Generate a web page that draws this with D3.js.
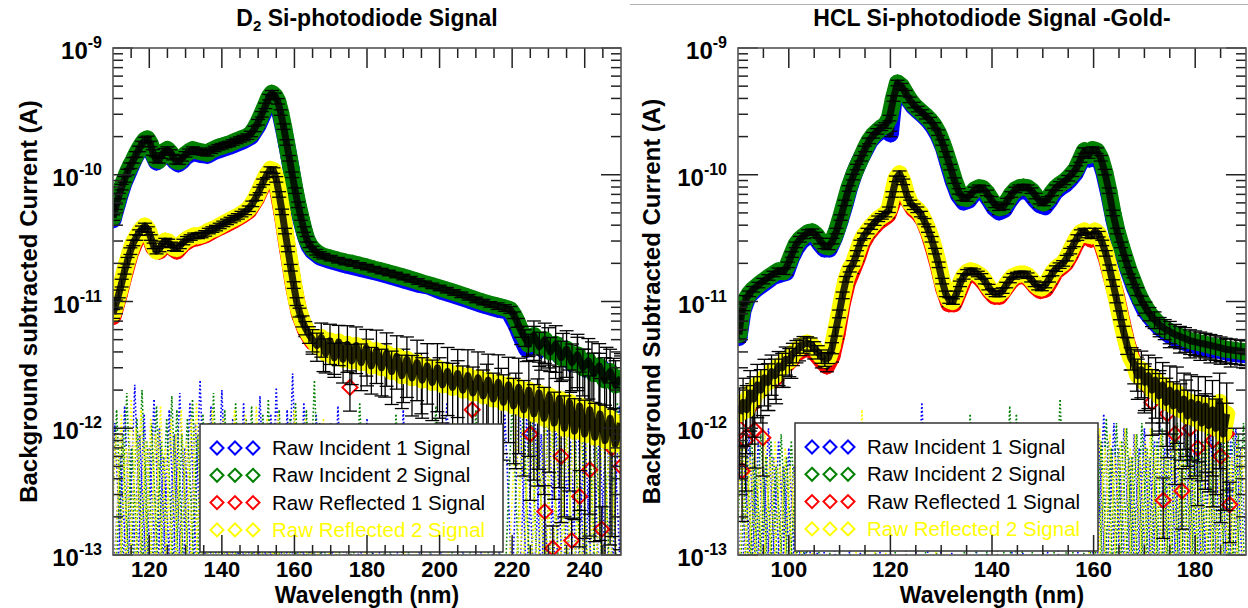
<!DOCTYPE html>
<html>
<head>
<meta charset="utf-8">
<script src="https://cdn.jsdelivr.net/npm/d3@7"></script>
<style>
body{margin:0;background:#fff}
svg{display:block;font-family:"Liberation Sans",Arial,Helvetica,sans-serif}
</style>
</head>
<body>
<div class="bod"></div>
<script>
//Global general
const seriesNames = ['Raw Incident 1 Signal','Raw Incident 2 Signal','Raw Reflected 1 Signal','Raw Reflected 2 Signal']
const seriesColors = ['#0000ff','#008000','#ff0000','#ffff00']
const legendTextColors = ['#000','#000','#000','#ffff00']
const yDecades = [1e-13,1e-12,1e-11,1e-10,1e-9]
const d2XTicks = [120,140,160,180,200,220,240]
const hclXTicks = [100,120,140,160,180]

// [wavelength nm, current A, relative error]
const d2Incident1 = [[110,4.4e-11,.05],[111,5.6e-11,.05],[112,7.0e-11,.05],[113,8.6e-11,.05],[114,1.0e-10,.05],[115,1.17e-10,.05],[116,1.35e-10,.05],[117,1.52e-10,.05],[118,1.68e-10,.05],[119,1.8e-10,.05],[120,1.72e-10,.05],[121,1.45e-10,.05],[122,1.26e-10,.05],[123,1.33e-10,.05],[124,1.45e-10,.05],[125,1.5e-10,.05],[126,1.42e-10,.05],[127,1.28e-10,.05],[128,1.22e-10,.05],[129,1.28e-10,.05],[130,1.38e-10,.05],[132,1.5e-10,.05],[134,1.45e-10,.05],[136,1.42e-10,.05],[138,1.53e-10,.05],[140,1.6e-10,.05],[142,1.67e-10,.05],[144,1.76e-10,.05],[146,1.86e-10,.05],[148,2.0e-10,.05],[150,2.45e-10,.05],[152,3.3e-10,.05],[153,3.9e-10,.05],[154,4.15e-10,.05],[155,3.8e-10,.05],[156,3.1e-10,.05],[157,2.3e-10,.05],[158,1.65e-10,.05],[159,1.15e-10,.05],[160,7.8e-11,.05],[161,5.5e-11,.05],[162,4.2e-11,.05],[163,3.3e-11,.05],[164,2.75e-11,.05],[165,2.5e-11,.05],[167,2.25e-11,.05],[170,2.1e-11,.05],[174,1.95e-11,.05],[178,1.83e-11,.05],[182,1.72e-11,.05],[186,1.6e-11,.05],[190,1.48e-11,.05],[194,1.37e-11,.05],[197,1.32e-11,.05],[200,1.22e-11,.05],[204,1.12e-11,.05],[208,1.03e-11,.05],[212,9.4e-12,.05],[216,8.7e-12,.06],[219,8.4e-12,.06],[221,6.6e-12,.08],[222.5,5.2e-12,.12],[224,4.2e-12,.2],[226,4.9e-12,.3],[228,4.1e-12,.3],[230,4.6e-12,.35],[232,3.8e-12,.35],[234,4.0e-12,.4],[236,3.2e-12,.4],[238,3.6e-12,.45],[240,2.9e-12,.45],[242,3.2e-12,.5],[244,2.6e-12,.5],[246,2.9e-12,.5],[248,2.3e-12,.55],[250,2.4e-12,.55]]
const d2Incident2 = [[110,4.6e-11,.05],[110.8,5.6e-11,.05],[111.6,6.8e-11,.05],[112.4,8.0e-11,.05],[113.2,9.2e-11,.05],[114,1.05e-10,.05],[114.8,1.18e-10,.05],[115.6,1.3e-10,.05],[116.4,1.45e-10,.05],[117.2,1.6e-10,.05],[118,1.75e-10,.05],[118.8,1.88e-10,.05],[119.5,1.92e-10,.05],[120.3,1.75e-10,.05],[121,1.5e-10,.05],[121.8,1.32e-10,.05],[122.6,1.3e-10,.05],[123.4,1.42e-10,.05],[124.2,1.53e-10,.05],[125,1.58e-10,.05],[125.8,1.5e-10,.05],[126.6,1.38e-10,.05],[127.4,1.28e-10,.05],[128.2,1.27e-10,.05],[129,1.35e-10,.05],[130,1.45e-10,.05],[131,1.52e-10,.05],[132,1.58e-10,.05],[133,1.55e-10,.05],[134,1.52e-10,.05],[135,1.5e-10,.05],[136,1.48e-10,.05],[137,1.55e-10,.05],[138,1.6e-10,.05],[139,1.65e-10,.05],[140,1.68e-10,.05],[141,1.72e-10,.05],[142,1.75e-10,.05],[143,1.8e-10,.05],[144,1.85e-10,.05],[145,1.9e-10,.05],[146,1.95e-10,.05],[147,2.0e-10,.05],[148,2.1e-10,.05],[149,2.3e-10,.05],[150,2.6e-10,.05],[151,3.0e-10,.05],[152,3.5e-10,.05],[153,4.1e-10,.05],[153.8,4.4e-10,.05],[154.6,4.2e-10,.05],[155.4,3.8e-10,.05],[156.2,3.1e-10,.05],[157,2.4e-10,.05],[157.8,1.8e-10,.05],[158.6,1.35e-10,.05],[159.4,1.0e-10,.05],[160.2,7.5e-11,.05],[161,5.8e-11,.05],[161.8,4.6e-11,.05],[162.6,3.7e-11,.05],[163.4,3.1e-11,.05],[164.2,2.8e-11,.05],[165,2.6e-11,.05],[166,2.45e-11,.05],[167,2.35e-11,.05],[168,2.28e-11,.05],[170,2.2e-11,.05],[172,2.12e-11,.05],[174,2.05e-11,.05],[176,2.0e-11,.05],[178,1.93e-11,.05],[180,1.87e-11,.05],[182,1.8e-11,.05],[184,1.74e-11,.05],[186,1.68e-11,.05],[188,1.62e-11,.05],[190,1.56e-11,.05],[192,1.5e-11,.05],[194,1.44e-11,.05],[196,1.38e-11,.05],[198,1.33e-11,.05],[200,1.28e-11,.05],[202,1.23e-11,.05],[204,1.18e-11,.05],[206,1.13e-11,.05],[208,1.08e-11,.05],[210,1.03e-11,.05],[212,9.9e-12,.05],[214,9.5e-12,.05],[216,9.2e-12,.06],[218,8.9e-12,.06],[219.5,8.6e-12,.06],[220.5,7.8e-12,.06],[221.5,6.8e-12,.08],[222.5,5.8e-12,.1],[223.5,5.2e-12,.15],[224.5,4.6e-12,.2],[226,5.4e-12,.3],[227.5,4.4e-12,.3],[229,5.0e-12,.35],[230.5,4.0e-12,.3],[232,4.6e-12,.4],[233.5,3.6e-12,.35],[235,4.2e-12,.4],[236.5,3.3e-12,.4],[238,3.8e-12,.45],[239.5,3.0e-12,.4],[241,3.4e-12,.5],[242.5,2.7e-12,.45],[244,3.1e-12,.5],[245.5,2.4e-12,.5],[247,2.8e-12,.5],[248.5,2.2e-12,.55],[250,2.5e-12,.55]]
const d2Reflected1 = [[110,7.6e-12,.08],[111.6,1.1e-11,.07],[113.2,1.65e-11,.06],[114.8,2.4e-11,.06],[116.4,3.1e-11,.05],[118,3.6e-11,.05],[119.6,3.6e-11,.05],[121.2,2.65e-11,.05],[122.8,2.5e-11,.05],[124.4,2.9e-11,.05],[126,2.7e-11,.05],[127.6,2.5e-11,.05],[129.4,2.85e-11,.05],[131.4,3.1e-11,.05],[133.4,3.2e-11,.05],[135.4,3.35e-11,.05],[137.4,3.6e-11,.05],[139.4,3.85e-11,.05],[141.4,4.1e-11,.05],[143.4,4.4e-11,.05],[145.4,4.75e-11,.05],[147.4,5.2e-11,.05],[149.4,6.4e-11,.05],[151.4,8.5e-11,.05],[153.4,1.06e-10,.05],[155,8.8e-11,.05],[156.6,4.9e-11,.05],[158.2,2.5e-11,.05],[159.8,1.3e-11,.06],[161.4,7.9e-12,.08],[163,6.0e-12,.12],[165,4.8e-12,.2],[168,4.0e-12,.3],[171,3.8e-12,.3],[175.3,2.1e-12,.35],[180,3.6e-12,.4],[185,3.2e-12,.45],[190,2.9e-12,.45],[195,2.6e-12,.5],[200,2.4e-12,.5],[205,2.2e-12,.55],[209,1.4e-12,.6],[213,2.0e-12,.6],[217,1.8e-12,.65],[221,1.6e-12,.7],[225,9e-13,.7],[227,1.4e-12,.75],[229,2.2e-13,.6],[231.2,1.13e-13,.5],[233.5,6e-13,.7],[236.4,1.3e-13,.5],[238.6,2.9e-13,.6],[241.4,4.7e-13,.7],[244.7,1.6e-13,.5],[247.5,7e-13,.8],[250,5e-13,.8]]
const d2Reflected2 = [[110,8.0e-12,.08],[110.8,9.5e-12,.08],[111.6,1.15e-11,.07],[112.4,1.4e-11,.07],[113.2,1.75e-11,.06],[114,2.1e-11,.06],[114.8,2.5e-11,.06],[115.6,2.9e-11,.05],[116.4,3.2e-11,.05],[117.2,3.5e-11,.05],[118,3.75e-11,.05],[118.8,3.95e-11,.05],[119.6,3.7e-11,.05],[120.4,3.2e-11,.05],[121.2,2.75e-11,.05],[122,2.5e-11,.05],[122.8,2.6e-11,.05],[123.6,2.85e-11,.05],[124.4,3.0e-11,.05],[125.2,2.95e-11,.05],[126,2.8e-11,.05],[126.8,2.65e-11,.05],[127.6,2.62e-11,.05],[128.4,2.75e-11,.05],[129.4,2.95e-11,.05],[130.4,3.1e-11,.05],[131.4,3.2e-11,.05],[132.4,3.3e-11,.05],[133.4,3.3e-11,.05],[134.4,3.35e-11,.05],[135.4,3.45e-11,.05],[136.4,3.6e-11,.05],[137.4,3.7e-11,.05],[138.4,3.8e-11,.05],[139.4,3.95e-11,.05],[140.4,4.1e-11,.05],[141.4,4.25e-11,.05],[142.4,4.4e-11,.05],[143.4,4.55e-11,.05],[144.4,4.7e-11,.05],[145.4,4.9e-11,.05],[146.4,5.1e-11,.05],[147.4,5.4e-11,.05],[148.4,5.9e-11,.05],[149.4,6.6e-11,.05],[150.4,7.6e-11,.05],[151.4,8.8e-11,.05],[152.4,1.0e-10,.05],[153.4,1.1e-10,.05],[154.2,1.08e-10,.05],[155,9.2e-11,.05],[155.8,7.0e-11,.05],[156.6,5.1e-11,.05],[157.4,3.6e-11,.05],[158.2,2.6e-11,.05],[159,1.85e-11,.06],[159.8,1.35e-11,.06],[160.6,1.0e-11,.07],[161.4,8.2e-12,.08],[162.2,7.0e-12,.1],[163,6.2e-12,.12],[164,5.5e-12,.15],[165,5.0e-12,.2],[166.2,4.5e-12,.25],[167.4,5.2e-12,.3],[168.6,3.9e-12,.3],[169.8,4.9e-12,.35],[171,3.6e-12,.3],[172.2,4.8e-12,.35],[173.4,3.5e-12,.35],[174.6,4.6e-12,.4],[175.8,3.4e-12,.35],[177,4.5e-12,.4],[178.4,3.3e-12,.4],[179.8,4.3e-12,.4],[181.2,3.1e-12,.4],[182.6,4.1e-12,.45],[184,3.0e-12,.4],[185.4,3.9e-12,.45],[186.8,2.8e-12,.45],[188.2,3.7e-12,.45],[189.6,2.6e-12,.45],[191,3.5e-12,.5],[192.4,2.5e-12,.5],[193.8,3.3e-12,.5],[195.2,2.4e-12,.5],[196.6,3.1e-12,.5],[198,2.3e-12,.5],[199.4,3.0e-12,.55],[200.8,2.2e-12,.5],[202.2,2.8e-12,.55],[203.6,2.1e-12,.55],[205,2.7e-12,.55],[206.4,2.0e-12,.55],[207.8,2.6e-12,.6],[209.2,1.9e-12,.6],[210.6,2.5e-12,.6],[212,1.8e-12,.6],[213.4,2.4e-12,.6],[214.8,1.7e-12,.6],[216.2,2.3e-12,.65],[217.6,1.6e-12,.65],[219,2.2e-12,.65],[220.4,1.5e-12,.65],[221.8,2.1e-12,.7],[223.2,1.4e-12,.7],[224.6,2.0e-12,.7],[226,1.3e-12,.7],[227.4,1.9e-12,.75],[228.8,1.2e-12,.75],[230.2,1.8e-12,.75],[231.6,1.1e-12,.75],[233,1.7e-12,.8],[234.4,1.0e-12,.8],[235.8,1.6e-12,.8],[237.2,9.5e-13,.8],[238.6,1.5e-12,.85],[240,9e-13,.85],[241.4,1.4e-12,.85],[242.8,8.5e-13,.85],[244.2,1.3e-12,.9],[245.6,8e-13,.9],[247,1.2e-12,.9],[248.4,7.5e-13,.9],[249.8,1.1e-12,.9]]

const hclIncident1 = [[90.2,5.2e-12,.08],[91,8.5e-12,.06],[92,1.1e-11,.05],[93.5,1.25e-11,.05],[95,1.38e-11,.05],[97,1.58e-11,.05],[98.5,1.65e-11,.05],[99.5,1.7e-11,.05],[100.5,2.2e-11,.05],[101.5,2.65e-11,.05],[102.5,3.0e-11,.05],[104,3.35e-11,.05],[105,3.3e-11,.05],[106,2.9e-11,.05],[107,2.6e-11,.05],[108,2.6e-11,.05],[109,3.2e-11,.05],[110,4.2e-11,.05],[111,5.7e-11,.05],[112,8.0e-11,.05],[113,1.05e-10,.05],[114,1.3e-10,.05],[115,1.55e-10,.05],[116,1.85e-10,.05],[117,2.05e-10,.05],[118,2.2e-10,.05],[119,2.35e-10,.05],[120,2.1e-10,.05],[120.6,3.6e-10,.05],[121.4,5.1e-10,.05],[122.4,4.7e-10,.05],[123.4,4.0e-10,.05],[124.4,3.5e-10,.05],[125.4,3.2e-10,.05],[126.4,2.95e-10,.05],[127.4,2.7e-10,.05],[128.4,2.4e-10,.05],[129.4,2.05e-10,.05],[130.4,1.65e-10,.05],[131.4,1.2e-10,.05],[132.4,8.8e-11,.05],[133.4,6.9e-11,.05],[134.4,6.1e-11,.05],[135.4,6.3e-11,.05],[136.4,7.1e-11,.05],[137.4,7.5e-11,.05],[138.4,7.3e-11,.05],[139.4,6.4e-11,.05],[140.4,5.5e-11,.05],[141.4,5.1e-11,.05],[142.4,5.3e-11,.05],[143.4,6.2e-11,.05],[144.4,7.0e-11,.05],[145.4,7.4e-11,.05],[146.4,7.5e-11,.05],[147.4,7.2e-11,.05],[148.4,6.4e-11,.05],[149.4,5.8e-11,.05],[150.4,5.6e-11,.05],[151.4,6.3e-11,.05],[152.4,7.3e-11,.05],[153.4,7.9e-11,.05],[154.4,8.4e-11,.05],[155.4,9.2e-11,.05],[156.4,1.03e-10,.05],[157.4,1.25e-10,.05],[158.4,1.45e-10,.05],[159.2,1.33e-10,.05],[160,1.48e-10,.05],[161,1.4e-10,.05],[162,1.05e-10,.05],[163,7.0e-11,.05],[164,4.4e-11,.05],[165,3.0e-11,.05],[166,2.2e-11,.05],[167,1.68e-11,.06],[168,1.3e-11,.07],[169,1.05e-11,.08],[170,8.6e-12,.1],[171.5,7.2e-12,.12],[173,6.2e-12,.15],[175,5.4e-12,.2],[177,4.9e-12,.2],[179,4.6e-12,.22],[181,4.4e-12,.22],[183,4.2e-12,.22],[185,4.1e-12,.22],[187,3.9e-12,.22],[190,3.8e-12,.22]]
const hclIncident2 = [[90.2,5.5e-12,.08],[90.6,7.5e-12,.07],[91,9.0e-12,.06],[91.6,1.05e-11,.06],[92.2,1.15e-11,.05],[93,1.25e-11,.05],[94,1.35e-11,.05],[95,1.45e-11,.05],[96,1.55e-11,.05],[97,1.65e-11,.05],[98,1.75e-11,.05],[99,1.72e-11,.05],[99.8,1.95e-11,.05],[100.6,2.35e-11,.05],[101.4,2.8e-11,.05],[102.2,3.1e-11,.05],[103,3.3e-11,.05],[103.8,3.5e-11,.05],[104.6,3.55e-11,.05],[105.4,3.35e-11,.05],[106.2,3.0e-11,.05],[107,2.75e-11,.05],[107.8,2.7e-11,.05],[108.6,3.0e-11,.05],[109.4,3.6e-11,.05],[110.2,4.6e-11,.05],[111,6.0e-11,.05],[111.8,7.8e-11,.05],[112.6,9.6e-11,.05],[113.4,1.15e-10,.05],[114.2,1.35e-10,.05],[115,1.6e-10,.05],[115.8,1.85e-10,.05],[116.6,2.05e-10,.05],[117.4,2.2e-10,.05],[118.2,2.35e-10,.05],[119,2.45e-10,.05],[119.8,2.8e-10,.05],[120.6,4.0e-10,.05],[121.4,5.3e-10,.05],[122.2,5.0e-10,.05],[123,4.4e-10,.05],[123.8,3.9e-10,.05],[124.6,3.55e-10,.05],[125.4,3.3e-10,.05],[126.2,3.1e-10,.05],[127,2.9e-10,.05],[127.8,2.7e-10,.05],[128.6,2.45e-10,.05],[129.4,2.15e-10,.05],[130.2,1.8e-10,.05],[131,1.45e-10,.05],[131.8,1.15e-10,.05],[132.6,9.0e-11,.05],[133.4,7.4e-11,.05],[134.2,6.6e-11,.05],[135,6.5e-11,.05],[135.8,7.0e-11,.05],[136.6,7.6e-11,.05],[137.4,7.9e-11,.05],[138.2,7.8e-11,.05],[139,7.2e-11,.05],[139.8,6.4e-11,.05],[140.6,5.8e-11,.05],[141.4,5.5e-11,.05],[142.2,5.6e-11,.05],[143,6.2e-11,.05],[143.8,7.0e-11,.05],[144.6,7.6e-11,.05],[145.4,7.9e-11,.05],[146.2,8.0e-11,.05],[147,7.9e-11,.05],[147.8,7.5e-11,.05],[148.6,6.8e-11,.05],[149.4,6.2e-11,.05],[150.2,6.0e-11,.05],[151,6.4e-11,.05],[151.8,7.2e-11,.05],[152.6,7.9e-11,.05],[153.4,8.4e-11,.05],[154.2,8.8e-11,.05],[155,9.4e-11,.05],[155.8,1.02e-10,.05],[156.6,1.12e-10,.05],[157.4,1.32e-10,.05],[158.2,1.55e-10,.05],[159,1.42e-10,.05],[159.8,1.58e-10,.05],[160.6,1.55e-10,.05],[161.4,1.35e-10,.05],[162.2,1.05e-10,.05],[163,7.5e-11,.05],[163.8,5.0e-11,.05],[164.6,3.6e-11,.05],[165.4,2.8e-11,.05],[166.2,2.2e-11,.05],[167,1.75e-11,.06],[167.8,1.45e-11,.06],[168.6,1.2e-11,.07],[169.4,1.02e-11,.08],[170.2,9.0e-12,.1],[171,8.0e-12,.12],[172,7.2e-12,.15],[173,6.5e-12,.15],[174,6.1e-12,.18],[175,5.8e-12,.2],[176,5.5e-12,.2],[177,5.3e-12,.2],[178,5.1e-12,.22],[179,4.9e-12,.22],[180,4.8e-12,.22],[181,4.7e-12,.22],[182,4.6e-12,.22],[183,4.5e-12,.22],[184,4.4e-12,.22],[185,4.3e-12,.22],[186,4.2e-12,.22],[187,4.15e-12,.22],[188,4.1e-12,.22],[189,4.05e-12,.22],[190,4.0e-12,.22]]
const hclReflected1 = [[90.3,1.0e-12,.6],[90.8,4.6e-13,.6],[91.5,8e-13,.6],[92.8,1.5e-12,.5],[93.3,9.7e-13,.5],[94.9,8.4e-13,.5],[96,2.3e-12,.4],[97.5,2.4e-12,.35],[99,3.0e-12,.3],[100.5,3.3e-12,.25],[102,4.0e-12,.15],[103.5,4.4e-12,.12],[105,4.0e-12,.12],[106.5,3.4e-12,.12],[107.5,3.1e-12,.1],[108.5,3.7e-12,.1],[109.5,5.5e-12,.08],[110.5,9.5e-12,.06],[111.5,1.4e-11,.05],[112.5,1.75e-11,.05],[113.5,2.2e-11,.05],[114.5,2.9e-11,.05],[115.5,3.4e-11,.05],[116.5,3.8e-11,.05],[117.5,4.2e-11,.05],[118.5,4.5e-11,.05],[119.5,4.8e-11,.05],[120.5,6.2e-11,.05],[121.5,9.0e-11,.05],[122.5,8.4e-11,.05],[123.5,6.3e-11,.05],[124.5,5.4e-11,.05],[125.5,5.0e-11,.05],[126.5,4.4e-11,.05],[127.5,3.5e-11,.05],[128.5,2.6e-11,.05],[129.5,1.85e-11,.05],[130.5,1.25e-11,.05],[131.5,9.6e-12,.05],[132.5,9.6e-12,.05],[133.5,1.2e-11,.05],[134.5,1.5e-11,.05],[135.5,1.65e-11,.05],[136.5,1.65e-11,.05],[137.5,1.55e-11,.05],[138.5,1.4e-11,.05],[139.5,1.22e-11,.05],[140.5,1.1e-11,.05],[141.5,1.1e-11,.05],[142.5,1.25e-11,.05],[143.5,1.42e-11,.05],[144.5,1.55e-11,.05],[145.5,1.6e-11,.05],[146.5,1.6e-11,.05],[147.5,1.48e-11,.05],[148.5,1.32e-11,.05],[149.5,1.22e-11,.05],[150.5,1.25e-11,.05],[151.5,1.45e-11,.05],[152.5,1.72e-11,.05],[153.5,1.85e-11,.05],[154.5,2.0e-11,.05],[155.5,2.35e-11,.05],[156.5,2.85e-11,.05],[157.5,3.3e-11,.05],[158.5,3.4e-11,.05],[159.5,3.1e-11,.05],[160.5,3.4e-11,.05],[161.5,2.9e-11,.05],[162.5,2.2e-11,.05],[163.5,1.55e-11,.05],[164.5,1.1e-11,.06],[165.5,7.2e-12,.08],[166.5,4.8e-12,.12],[167.5,3.6e-12,.2],[168.5,2.8e-12,.3],[170,2.2e-12,.4],[171.5,1.6e-12,.45],[173,1.9e-12,.5],[173.7,2.7e-13,.5],[174.5,1.3e-12,.55],[176,9e-13,.6],[177.4,3.2e-13,.5],[178.2,1.5e-12,.6],[179,1.0e-12,.6],[180.5,7e-13,.65],[182,1.1e-12,.7],[183.5,8e-13,.7],[185,6e-13,.7],[186.2,9e-13,.75],[186.8,2.5e-13,.5]]
const hclReflected2 = [[90.3,1.3e-12,.6],[91,1.6e-12,.55],[91.7,1.4e-12,.55],[92.4,1.9e-12,.5],[93.1,1.7e-12,.5],[93.8,2.2e-12,.45],[94.5,2.0e-12,.45],[95.2,2.5e-12,.4],[95.9,2.3e-12,.4],[96.6,2.8e-12,.35],[97.3,2.6e-12,.35],[98,3.1e-12,.3],[98.7,3.0e-12,.3],[99.4,3.5e-12,.25],[100.1,3.4e-12,.25],[100.8,3.9e-12,.2],[101.5,4.1e-12,.2],[102.2,4.4e-12,.15],[102.9,4.6e-12,.15],[103.6,4.7e-12,.12],[104.3,4.6e-12,.12],[105,4.3e-12,.12],[105.7,4.0e-12,.12],[106.4,3.7e-12,.12],[107.1,3.5e-12,.12],[107.8,3.6e-12,.1],[108.5,4.3e-12,.1],[109.2,5.8e-12,.08],[109.9,8.0e-12,.07],[110.6,1.12e-11,.06],[111.3,1.5e-11,.05],[112,1.8e-11,.05],[112.7,2.0e-11,.05],[113.4,2.4e-11,.05],[114.1,2.9e-11,.05],[114.8,3.3e-11,.05],[115.5,3.6e-11,.05],[116.2,3.9e-11,.05],[116.9,4.2e-11,.05],[117.6,4.5e-11,.05],[118.3,4.7e-11,.05],[119,4.9e-11,.05],[119.7,5.3e-11,.05],[120.4,7.0e-11,.05],[121.1,9.3e-11,.05],[121.8,1.02e-10,.05],[122.5,8.8e-11,.05],[123.2,7.0e-11,.05],[123.9,6.0e-11,.05],[124.6,5.6e-11,.05],[125.3,5.3e-11,.05],[126,4.9e-11,.05],[126.7,4.3e-11,.05],[127.4,3.7e-11,.05],[128.1,3.1e-11,.05],[128.8,2.5e-11,.05],[129.5,1.95e-11,.05],[130.2,1.45e-11,.05],[130.9,1.15e-11,.05],[131.6,1.02e-11,.05],[132.3,1.0e-11,.05],[133,1.15e-11,.05],[133.7,1.38e-11,.05],[134.4,1.58e-11,.05],[135.1,1.7e-11,.05],[135.8,1.75e-11,.05],[136.5,1.72e-11,.05],[137.2,1.65e-11,.05],[137.9,1.58e-11,.05],[138.6,1.45e-11,.05],[139.3,1.3e-11,.05],[140,1.2e-11,.05],[140.7,1.15e-11,.05],[141.4,1.15e-11,.05],[142.1,1.22e-11,.05],[142.8,1.35e-11,.05],[143.5,1.48e-11,.05],[144.2,1.58e-11,.05],[144.9,1.62e-11,.05],[145.6,1.65e-11,.05],[146.3,1.65e-11,.05],[147,1.6e-11,.05],[147.7,1.5e-11,.05],[148.4,1.38e-11,.05],[149.1,1.3e-11,.05],[149.8,1.28e-11,.05],[150.5,1.35e-11,.05],[151.2,1.5e-11,.05],[151.9,1.68e-11,.05],[152.6,1.82e-11,.05],[153.3,1.92e-11,.05],[154,2.0e-11,.05],[154.7,2.2e-11,.05],[155.4,2.5e-11,.05],[156.1,2.85e-11,.05],[156.8,3.2e-11,.05],[157.5,3.5e-11,.05],[158.2,3.6e-11,.05],[158.9,3.35e-11,.05],[159.6,3.3e-11,.05],[160.3,3.6e-11,.05],[161,3.4e-11,.05],[161.7,2.9e-11,.05],[162.4,2.4e-11,.05],[163.1,1.85e-11,.05],[163.8,1.4e-11,.06],[164.5,1.05e-11,.07],[165.2,7.8e-12,.08],[165.9,5.8e-12,.1],[166.6,4.5e-12,.15],[167.3,3.6e-12,.2],[168,3.2e-12,.3],[168.7,2.6e-12,.35],[169.4,2.9e-12,.4],[170.1,2.3e-12,.4],[170.8,2.6e-12,.45],[171.5,2.0e-12,.45],[172.2,2.4e-12,.5],[172.9,1.8e-12,.5],[173.6,2.2e-12,.5],[174.3,1.6e-12,.55],[175,2.0e-12,.55],[175.7,1.5e-12,.55],[176.4,1.9e-12,.6],[177.1,1.4e-12,.6],[177.8,1.7e-12,.6],[178.5,1.25e-12,.6],[179.2,1.6e-12,.65],[179.9,1.2e-12,.65],[180.6,1.55e-12,.65],[181.3,1.1e-12,.65],[182,1.5e-12,.7],[182.7,1.05e-12,.7],[183.4,1.4e-12,.7],[184.1,1.0e-12,.7],[184.8,1.6e-12,.7],[185.5,9e-13,.75],[186.2,1.3e-12,.75]]

// noise peaks drawn as dotted spikes: [wavelength nm, peak current A]
const d2NoiseBlue = [[110.5,1.1e-12],[112,6e-13],[113.2,1.5e-12],[114.5,8e-13],[116,2.2e-12],[117.3,9e-13],[118.6,1.3e-12],[120,7e-13],[121.3,1.7e-12],[122.8,1e-12],[124,6e-13],[125.5,1.4e-12],[127,9e-13],[128.4,1.9e-12],[129.8,7e-13],[131.2,1.6e-12],[132.7,1.1e-12],[134,2.4e-12],[135.4,8e-13],[137,1.5e-12],[138.5,1e-12],[140,2e-12],[141.6,7e-13],[143,1.2e-12],[144.5,9e-13],[146,1.6e-12],[147.4,1.1e-12],[149,7e-13],[150.5,1.8e-12],[152,9e-13],[153.5,1.3e-12],[155,2.1e-12],[156.6,8e-13],[158,1.4e-12],[159.5,2.7e-12],[161,1e-12],[162.6,1.6e-12],[164,9e-13],[166,1.3e-12],[169,8e-13],[172,1.5e-12],[176,1e-12],[180,1.2e-12],[185,9e-13],[190,1.4e-12],[196,1e-12],[202,1.6e-12],[208,1.1e-12],[213,9e-13],[218,1.3e-12],[222,1.8e-12],[224,1.2e-12],[226,2e-12],[228,9e-13],[230,1.5e-12],[232,1.1e-12],[234,1.7e-12],[236,8e-13],[238,1.4e-12],[240,1e-12],[242,1.6e-12],[244,9e-13],[246,1.3e-12],[248,1.1e-12],[249.5,1.5e-12]]
const d2NoiseGreen = [[111,1.4e-12],[112.6,9e-13],[113.8,1.9e-12],[115.2,7e-13],[116.6,1.2e-12],[118,2e-12],[119.3,8e-13],[120.6,1.1e-12],[122,1.5e-12],[123.4,8e-13],[124.8,1.2e-12],[126.2,1.8e-12],[127.6,1.4e-12],[129,9e-13],[130.5,1.2e-12],[131.9,1.7e-12],[133.3,9e-13],[134.8,1.3e-12],[136.2,1.1e-12],[137.7,1.9e-12],[139.2,8e-13],[140.8,1.4e-12],[142.3,1e-12],[143.8,1.6e-12],[145.3,8e-13],[146.7,1.2e-12],[148.2,1.5e-12],[149.7,9e-13],[151.3,1.3e-12],[152.8,1.7e-12],[154.2,1e-12],[155.8,1.4e-12],[157.3,8e-13],[158.8,1.2e-12],[160.3,1.6e-12],[161.8,9e-13],[163.3,1.4e-12],[165.5,2.4e-12],[167,1.1e-12],[170,1.1e-12],[174,9e-13],[178,1.6e-12],[183,1e-12],[188,1.3e-12],[193,9e-13],[199,1.5e-12],[205,1e-12],[210,1.4e-12],[215,1e-12],[220,1.6e-12],[223,1.3e-12],[225,2.2e-12],[227,1e-12],[229,1.6e-12],[231,1.2e-12],[233,1.9e-12],[235,1e-12],[237,1.5e-12],[239,1.2e-12],[241,1.7e-12],[243,1e-12],[245,1.4e-12],[247,1.2e-12],[249,1.6e-12]]
const d2NoiseYellow = [[110.8,9e-13],[112.3,1.3e-12],[113.6,7e-13],[115,1.7e-12],[116.3,1e-12],[117.7,1.4e-12],[119,8e-13],[120.4,1.2e-12],[121.8,9e-13],[123.1,1.5e-12],[124.5,7e-13],[126,1.2e-12],[127.3,9e-13],[128.8,1.4e-12],[130.2,8e-13],[131.6,1.2e-12],[133,1.6e-12],[134.5,8e-13],[136,1.1e-12],[137.4,1.4e-12],[139,8e-13],[140.4,1.2e-12],[142,9e-13],[143.5,1.4e-12],[145,7e-13],[146.5,1.3e-12],[148,1e-12],[149.5,1.5e-12],[151,8e-13],[152.5,1.2e-12],[154,1e-12],[155.5,1.3e-12],[157,7e-13],[158.5,1.1e-12],[160,1.4e-12],[161.5,8e-13],[163,1.2e-12],[165,9e-13],[168,1.2e-12],[173,8e-13],[181,1e-12],[192,8e-13],[204,1.1e-12],[214,9e-13],[221,1.3e-12],[223,1e-12],[225,1.6e-12],[227,9e-13],[229,1.3e-12],[231,1e-12],[233,1.5e-12],[235,9e-13],[237,1.2e-12],[239,1e-12],[241,1.4e-12],[243,8e-13],[245,1.2e-12],[247,1e-12],[249,1.3e-12]]
const hclNoiseBlue = [[90.4,7e-13],[91.3,5e-13],[92.2,9e-13],[93.1,6e-13],[94,8e-13],[95,5e-13],[96,1e-12],[97,6e-13],[98,8e-13],[99,5e-13],[100,7e-13],[101,5e-13],[102,6e-13],[103.2,4e-13],[104.5,6e-13],[108,5e-13],[113,6e-13],[119,5e-13],[126.2,1.6e-12],[131,6e-13],[138,5e-13],[145,6e-13],[152,5e-13],[158,7e-13],[161,9e-13],[162,1.3e-12],[163,8e-13],[164,1.1e-12],[165,7e-13],[166,1e-12],[167,6e-13],[168,9e-13],[169,7e-13],[170,1e-12],[171,6e-13],[172,8e-13],[173,1.1e-12],[174,7e-13],[175,9e-13],[176,6e-13],[177,8e-13],[178,1e-12],[179,7e-13],[180,9e-13],[181,6e-13],[182,8e-13],[183,1e-12],[184,7e-13],[185,9e-13],[186,6e-13],[187,8e-13],[188,1e-12],[189,7e-13]]
const hclNoiseGreen = [[90.8,8e-13],[91.7,6e-13],[92.6,1e-12],[93.5,5e-13],[94.5,9e-13],[95.5,6e-13],[96.5,8e-13],[97.5,5e-13],[98.5,9e-13],[99.5,6e-13],[100.5,8e-13],[101.5,5e-13],[102.5,7e-13],[104,5e-13],[107,6e-13],[111,5e-13],[116,6e-13],[122,5e-13],[128,6e-13],[135.7,1.3e-12],[140,5e-13],[143.5,1.5e-12],[144.8,1.3e-12],[149,6e-13],[153.4,1.7e-12],[157,6e-13],[160.5,1e-12],[161.5,8e-13],[162.5,1.2e-12],[163.5,7e-13],[164.5,1.1e-12],[165.5,8e-13],[166.5,1e-12],[167.5,6e-13],[168.5,9e-13],[169.5,1.1e-12],[170.5,7e-13],[171.5,1e-12],[172.5,8e-13],[173.5,1e-12],[174.5,7e-13],[175.5,9e-13],[176.5,1.1e-12],[177.5,7e-13],[178.5,9e-13],[179.5,6e-13],[180.5,1e-12],[181.5,8e-13],[182.5,1.1e-12],[183.5,7e-13],[184.5,9e-13],[185.5,1.2e-12],[186.5,8e-13],[187.5,1e-12],[188.5,9e-13],[189.5,1.1e-12]]
const hclNoiseYellow = [[90.6,7e-13],[91.5,9e-13],[92.4,6e-13],[93.3,8e-13],[94.3,5e-13],[95.3,9e-13],[96.3,6e-13],[97.3,8e-13],[98.3,5e-13],[99.3,7e-13],[100.3,5e-13],[101.3,7e-13],[102.3,5e-13],[103.5,6e-13],[114.4,1.4e-12],[118,6e-13],[130,5e-13],[160.2,7e-13],[161.2,1e-12],[162.2,7e-13],[163.2,9e-13],[164.2,6e-13],[165.2,8e-13],[166.2,1e-12],[167.2,7e-13],[168.2,9e-13],[169.2,6e-13],[170.2,8e-13],[171.2,1e-12],[172.2,7e-13],[173.2,9e-13],[174.2,6e-13],[175.2,8e-13],[176.2,1e-12],[177.2,7e-13],[178.2,9e-13],[179.2,6e-13],[180.2,8e-13],[181.2,7e-13],[182.2,9e-13],[183.2,6e-13],[184.2,8e-13],[185.2,7e-13],[186.2,9e-13],[187.2,6e-13],[188.2,8e-13],[189.2,7e-13]]

const size = {width:1248, height:608}
// series drawn underneath only get a band where their error stays small
const bandMaxErr = [0.25, 1, 0.25, 1]
const diamond = (r) => `M0,${-r}L${r},0L0,${r}L${-r},0Z`

const svg = d3.select('.bod')
  .append('svg')
  .attr('width', size.width)
  .attr('height', size.height)

// thin rule at the top of the right panel
svg.append('line')
  .attr('x1',630).attr('x2',1248).attr('y1',4.5).attr('y2',4.5)
  .attr('stroke','#b0b0b0').attr('stroke-width',1)

const renderPanel = (p) => {
  const x = d3.scaleLinear().domain(p.xDomain).range([p.left, p.right])
  const y = d3.scaleLog().domain([1e-13,1e-9]).range([p.bottom, p.top])
  const g = svg.append('g')

  g.append('clipPath').attr('id','clip-'+p.id)
    .append('rect')
    .attr('x',p.left).attr('y',p.top)
    .attr('width',p.right-p.left).attr('height',p.bottom-p.top)
  const plot = g.append('g').attr('clip-path',`url(#clip-${p.id})`)

  //dotted noise spikes
  p.noise.forEach((arr,i)=>{
    plot.append('g').selectAll('path')
      .data(arr).enter().append('path')
      .attr('d', d => `M${x(d[0])-7},${p.bottom+25}L${x(d[0])},${y(d[1])}L${x(d[0])+7},${p.bottom+25}`)
      .attr('fill','none')
      .attr('stroke', p.noiseColors[i])
      .attr('stroke-width',1.6)
      .attr('stroke-dasharray','1.6 2.2')
  })

  //series: band, diamonds, black core, error bars
  const line = d3.line().x(d=>x(d[0])).y(d=>y(d[1]))
  p.series.forEach((arr,i)=>{
    const col = seriesColors[i]
    const sg = plot.append('g')
    // split into runs where neighbouring points stay close (outliers stand alone)
    let runs = [], cur = []
    arr.forEach(d=>{
      const prev = cur[cur.length-1]
      const ok = d[2] < bandMaxErr[i]
      if(ok && (!prev || Math.abs(Math.log10(d[1]/prev[1])) < 0.3)){ cur.push(d) }
      else { if(cur.length>1) runs.push(cur); cur = ok ? [d] : [] }
    })
    if(cur.length>1) runs.push(cur)

    sg.selectAll('.band').data(runs).enter().append('path')
      .attr('class','band')
      .attr('d',line)
      .attr('fill','none').attr('stroke',col)
      .attr('stroke-width',17).attr('stroke-linejoin','round').attr('stroke-linecap','round')

    sg.selectAll('.dia').data(arr).enter().append('path')
      .attr('class','dia')
      .attr('d',diamond(7.5))
      .attr('transform',d=>`translate(${x(d[0])},${y(d[1])})`)
      .attr('fill','none').attr('stroke',col).attr('stroke-width',2)

    sg.selectAll('.core').data(runs).enter().append('path')
      .attr('class','core')
      .attr('d',line)
      .attr('fill','none').attr('stroke','#000')
      .attr('stroke-width',7).attr('stroke-opacity',0.85).attr('stroke-linejoin','round')

    const eb = sg.selectAll('.err').data(arr).enter().append('g').attr('class','err')
      .attr('stroke','#000').attr('stroke-width',1.3)
    const hi = d => y(d[1]*(1+d[2]))
    const lo = d => y(Math.max(d[1]*(1-d[2]),1e-15))
    eb.append('line').attr('x1',d=>x(d[0])).attr('x2',d=>x(d[0])).attr('y1',hi).attr('y2',lo)
    eb.append('line').attr('x1',d=>x(d[0])-7).attr('x2',d=>x(d[0])+7).attr('y1',hi).attr('y2',hi)
    eb.append('line').attr('x1',d=>x(d[0])-7).attr('x2',d=>x(d[0])+7).attr('y1',lo).attr('y2',lo)
  })

  //legend
  const lg = g.append('g').attr('transform',`translate(${p.legend.x},${p.legend.y})`)
  lg.append('rect')
    .attr('width',p.legend.w).attr('height',p.legend.h)
    .attr('fill','#fff').attr('stroke','#333').attr('stroke-width',1.5)
  const items = lg.selectAll('.legend-item').data(seriesNames).enter().append('g')
    .attr('class','legend-item')
    .attr('transform',(d,i)=>`translate(0,${24+i*27.3})`)
  ;[17,35,53].forEach(dx=>{
    items.append('path').attr('d',diamond(6.5))
      .attr('transform',`translate(${dx},0)`)
      .attr('fill','none').attr('stroke',(d,i)=>seriesColors[i]).attr('stroke-width',2)
  })
  items.append('text')
    .attr('x',72).attr('y',7)
    .attr('font-size','20.5px')
    .attr('fill',(d,i)=>legendTextColors[i])
    .text(d=>d)

  //frame and ticks
  const axis = g.append('g').attr('stroke','#222').attr('stroke-width',1.5)
  const minorX = d3.range(p.xDomain[0],p.xDomain[1]+0.01,5).filter(v=>v%20!==0 && v>p.xDomain[0] && v<p.xDomain[1])
  const drawXTick = (v,len) => {
    axis.append('line').attr('x1',x(v)).attr('x2',x(v)).attr('y1',p.bottom).attr('y2',p.bottom-len)
    axis.append('line').attr('x1',x(v)).attr('x2',x(v)).attr('y1',p.top).attr('y2',p.top+len)
  }
  p.xTicks.forEach(v=>drawXTick(v,20))
  minorX.forEach(v=>drawXTick(v,10))
  const drawYTick = (v,len) => {
    axis.append('line').attr('x1',p.left).attr('x2',p.left+len).attr('y1',y(v)).attr('y2',y(v))
    axis.append('line').attr('x1',p.right).attr('x2',p.right-len).attr('y1',y(v)).attr('y2',y(v))
  }
  yDecades.forEach(v=>drawYTick(v,20))
  yDecades.slice(0,-1).forEach(v=>d3.range(2,10).forEach(k=>drawYTick(k*v,10)))
  g.append('rect')
    .attr('x',p.left).attr('y',p.top)
    .attr('width',p.right-p.left).attr('height',p.bottom-p.top)
    .attr('fill','none').attr('stroke','#555').attr('stroke-width',1.6)

  //tick labels
  g.selectAll('.xlab').data(p.xTicks).enter().append('text')
    .attr('class','xlab')
    .attr('x',d=>x(d)).attr('y',577)
    .attr('text-anchor','middle')
    .attr('font-size','22px').attr('font-weight','bold')
    .text(d=>d)
  const ylab = g.selectAll('.ylab').data(yDecades).enter().append('text')
    .attr('class','ylab')
    .attr('x',p.tickLabelX).attr('y',d=>y(d)+11)
    .attr('text-anchor','end')
    .attr('font-size','24px').attr('font-weight','bold')
  ylab.append('tspan').text('10')
  ylab.append('tspan').attr('dy',-11).attr('font-size','16px').text(d=>Math.round(Math.log10(d)))

  //titles
  const t = g.append('text')
    .attr('x',(p.left+p.right)/2).attr('y',26)
    .attr('text-anchor','middle')
    .attr('font-size','23px').attr('font-weight','bold')
  p.title.forEach(part=>{
    t.append('tspan').attr('dy',part.dy).attr('font-size',part.size).text(part.text)
  })
  g.append('text')
    .attr('x',(p.left+p.right)/2).attr('y',603)
    .attr('text-anchor','middle')
    .attr('font-size','23px').attr('font-weight','bold')
    .text('Wavelength (nm)')
  g.append('text')
    .attr('transform',`translate(${p.yLabelX},${(p.top+p.bottom)/2}) rotate(-90)`)
    .attr('text-anchor','middle')
    .attr('font-size','24px').attr('font-weight','bold')
    .text(p.yLabel)
}

renderPanel({
  id:'d2', left:113, right:621, top:48, bottom:555,
  xDomain:[110,250], xTicks:d2XTicks,
  series:[d2Incident1,d2Incident2,d2Reflected1,d2Reflected2],
  noise:[d2NoiseBlue,d2NoiseGreen,d2NoiseYellow],
  noiseColors:['#0000ff','#008000','#ffff00'],
  legend:{x:200,y:424,w:303,h:128},
  tickLabelX:102, yLabelX:37,
  yLabel:'Background subtracted Current (A)',
  title:[{text:'D',dy:0,size:'23px'},{text:'2',dy:5,size:'15px'},{text:' Si-photodiode Signal',dy:-5,size:'23px'}]
})
renderPanel({
  id:'hcl', left:738, right:1246, top:48, bottom:555,
  xDomain:[90,190], xTicks:hclXTicks,
  series:[hclIncident1,hclIncident2,hclReflected1,hclReflected2],
  noise:[hclNoiseBlue,hclNoiseGreen,hclNoiseYellow],
  noiseColors:['#0000ff','#008000','#ffff00'],
  legend:{x:795,y:423,w:303,h:128},
  tickLabelX:727, yLabelX:660,
  yLabel:'Background Subtracted Current (A)',
  title:[{text:'HCL Si-photodiode Signal -Gold-',dy:0,size:'23px'}]
})
</script>
</body>
</html>
